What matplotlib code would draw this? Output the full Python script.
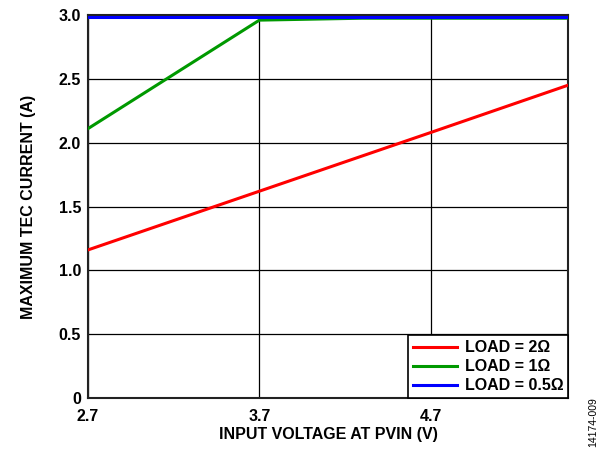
import matplotlib
matplotlib.use('Agg')
import matplotlib.pyplot as plt

# Datos
vin = [2.7, 3.7, 4.7, 5.5]
i_load_2 = [1.16, 1.62, 2.08, 2.45]
vin_1 = [2.7, 3.7, 4.3, 5.5]
i_load_1 = [2.11, 2.96, 2.975, 2.975]
vin_05 = [2.7, 5.5]
i_load_05 = [2.984, 2.984]

x_ticks = [2.7, 3.7, 4.7]
y_ticks = [0, 0.5, 1.0, 1.5, 2.0, 2.5, 3.0]
y_tick_labels = ['0', '0.5', '1.0', '1.5', '2.0', '2.5', '3.0']

plt.rcParams['font.family'] = ['Liberation Sans', 'DejaVu Sans']
plt.rcParams['font.weight'] = 'bold'

fig = plt.figure(figsize=(6.14, 4.51), dpi=100)
ax = fig.add_axes([0.1433, 0.1175, 0.7817, 0.8492])

ax.plot(vin, i_load_2, color='#ff0000', linewidth=2.2, label='LOAD = 2Ω', zorder=3)
ax.plot(vin_1, i_load_1, color='#009900', linewidth=2.2, label='LOAD = 1Ω', zorder=3)
ax.plot(vin_05, i_load_05, color='#0000ff', linewidth=2.2, label='LOAD = 0.5Ω', zorder=4)

ax.set_xlim(2.7, 5.5)
ax.set_ylim(0, 3.0)
ax.set_xticks(x_ticks)
ax.set_xticklabels([f'{v:.1f}' for v in x_ticks])
ax.set_yticks(y_ticks)
ax.set_yticklabels(y_tick_labels)
ax.tick_params(axis='x', length=0, labelsize=11.5, pad=8)
ax.tick_params(axis='y', length=0, labelsize=11.5, pad=5)
for lbl in ax.get_xticklabels() + ax.get_yticklabels():
    lbl.set_fontweight('bold')

ax.grid(True, color='black', linewidth=0.9)
for s in ax.spines.values():
    s.set_linewidth(1.5)
    s.set_color('#222222')

ax.set_xlabel('INPUT VOLTAGE AT PVIN (V)', fontsize=11.5, fontweight='bold', labelpad=2)
ax.set_ylabel('MAXIMUM TEC CURRENT (A)', fontsize=11.5, fontweight='bold', labelpad=16)

leg = ax.legend(loc='lower right', fontsize=11.5, frameon=True, fancybox=False,
                borderaxespad=0, handlelength=2.8, handletextpad=0.45,
                labelspacing=0.25, borderpad=0.3)
leg.get_frame().set_edgecolor('black')
leg.get_frame().set_linewidth(1.2)
leg.get_frame().set_alpha(1)
for t in leg.get_texts():
    t.set_fontweight('bold')

fig.text(0.966, 0.064, '14174-009', rotation=90, fontsize=7.5, fontweight='normal',
         ha='center', va='center')

fig.savefig('out.png', dpi=100)
